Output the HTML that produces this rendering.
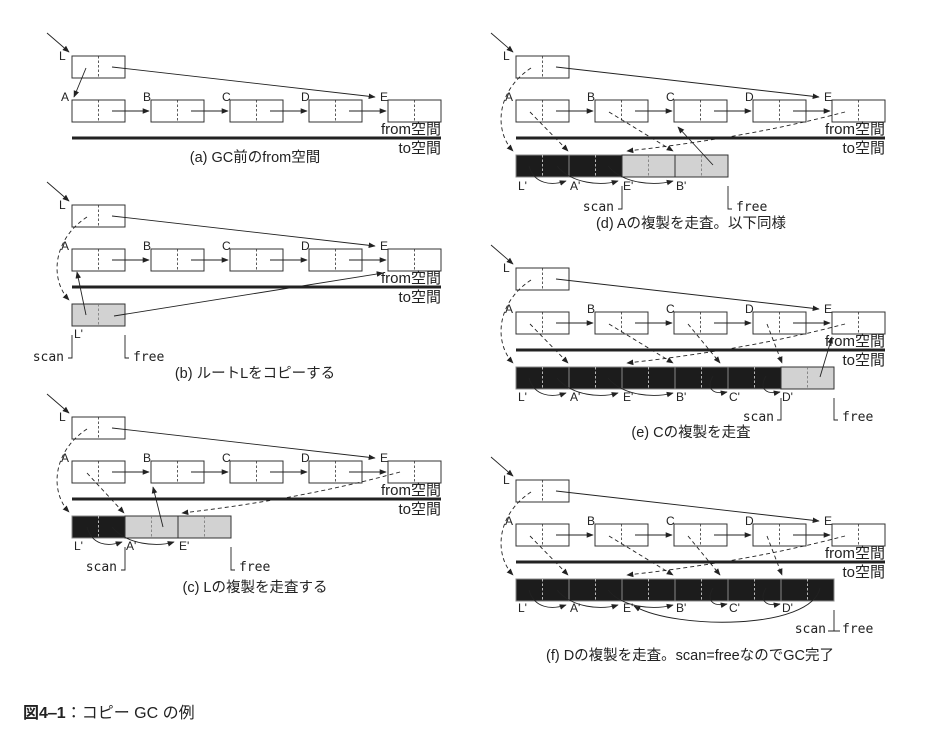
<!DOCTYPE html>
<html><head><meta charset="utf-8"><style>
html,body{margin:0;padding:0;background:#fff;}
svg{display:block;}
text{font-family:"Liberation Sans","Noto Sans CJK JP",sans-serif;fill:#222;}
.lb{font-size:12px;}
.cap{font-size:14.5px;text-anchor:middle;}
.sp{font-size:15px;text-anchor:end;}
.mono{font-family:"DejaVu Sans Mono","Liberation Mono",monospace;font-size:13px;}
</style></head><body>
<svg width="928" height="744" viewBox="0 0 928 744" xmlns="http://www.w3.org/2000/svg">
<defs>
<marker id="ah" viewBox="0 0 10 10" refX="9" refY="5" markerWidth="7" markerHeight="7" markerUnits="userSpaceOnUse" orient="auto"><path d="M0,1 L10,5 L0,9z" fill="#222"/></marker>
<g id="box"><rect x="0" y="0" width="53" height="22" fill="#fff" stroke="#333" stroke-width="1"/><line x1="26.5" y1="0" x2="26.5" y2="22" stroke="#333" stroke-width="0.8" stroke-dasharray="2.5,2"/></g>
<g id="bk"><rect x="0" y="0" width="53" height="22" fill="#1c1c1c" stroke="#888" stroke-width="1"/><line x1="26.5" y1="0" x2="26.5" y2="22" stroke="#ddd" stroke-width="0.8" stroke-dasharray="2.5,2"/></g>
<g id="gy"><rect x="0" y="0" width="53" height="22" fill="#d2d2d2" stroke="#333" stroke-width="1"/><line x1="26.5" y1="0" x2="26.5" y2="22" stroke="#777" stroke-width="0.8" stroke-dasharray="2.5,2"/></g>
<g id="frame" fill="none" stroke="#222" stroke-width="0.9">
<path d="M-25,-23 L-3,-4" marker-end="url(#ah)"/>
<use href="#box" x="0" y="0"/>
<use href="#box" x="0" y="44"/><use href="#box" x="79" y="44"/><use href="#box" x="158" y="44"/><use href="#box" x="237" y="44"/><use href="#box" x="316" y="44"/>
<path d="M40,55 H77" marker-end="url(#ah)"/><path d="M119,55 H156" marker-end="url(#ah)"/><path d="M198,55 H235" marker-end="url(#ah)"/><path d="M277,55 H314" marker-end="url(#ah)"/>
<path d="M40,11 L303,41" marker-end="url(#ah)"/>
<line x1="0" y1="82" x2="369" y2="82" stroke-width="3"/>
</g>
<path id="ldash" d="M15,12 C-20,35 -22,75 -3,95" fill="none" stroke="#222" stroke-width="0.9" stroke-dasharray="4,3" marker-end="url(#ah)"/>
</defs>

<!-- (a) -->
<g transform="translate(72,56)">
<use href="#frame"/>
<path d="M14,12 L2,41" stroke="#222" stroke-width="0.9" fill="none" marker-end="url(#ah)"/>
<text class="lb" x="-13" y="4">L</text><text class="lb" x="-11" y="45">A</text><text class="lb" x="71" y="45">B</text><text class="lb" x="150" y="45">C</text><text class="lb" x="229" y="45">D</text><text class="lb" x="308" y="45">E</text>
<text class="sp" x="369" y="78">from空間</text><text class="sp" x="369" y="97">to空間</text>
<text class="cap" x="183" y="106">(a) GC前のfrom空間</text>
</g>

<!-- (b) -->
<g transform="translate(72,205)">
<use href="#frame"/>
<use href="#ldash"/>
<use href="#gy" x="0" y="99"/>
<g fill="none" stroke="#222" stroke-width="0.9">
<path d="M14,110 L5,67" marker-end="url(#ah)"/>
<path d="M42,111 L311,68" marker-end="url(#ah)"/>
<path d="M0,130 V153 H-4"/><path d="M53,130 V153 H57"/>
</g>
<text class="lb" x="-13" y="4">L</text><text class="lb" x="-11" y="45">A</text><text class="lb" x="71" y="45">B</text><text class="lb" x="150" y="45">C</text><text class="lb" x="229" y="45">D</text><text class="lb" x="308" y="45">E</text>
<text class="lb" x="2" y="133">L'</text>
<text class="sp" x="369" y="78">from空間</text><text class="sp" x="369" y="97">to空間</text>
<text class="mono" x="-8" y="156" text-anchor="end">scan</text><text class="mono" x="61" y="156">free</text>
<text class="cap" x="183" y="173">(b) ルートLをコピーする</text>
</g>

<!-- (c) -->
<g transform="translate(72,417)">
<use href="#frame"/>
<use href="#ldash"/>
<use href="#bk" x="0" y="99"/><use href="#gy" x="53" y="99"/><use href="#gy" x="106" y="99"/>
<g fill="none" stroke="#222" stroke-width="0.9">
<path d="M15,56 L52,96" stroke-dasharray="4,3" marker-end="url(#ah)"/>
<path d="M328,55 Q230,82 110,96" stroke-dasharray="4,3" marker-end="url(#ah)"/>
<path d="M91,110 L81,70" marker-end="url(#ah)"/>
<path d="M53,130 V153 H49"/><path d="M159,130 V153 H163"/>
<path d="M15,110 C20,128 35,130 50,125" marker-end="url(#ah)"/>
<path d="M40,110 C55,128 85,130 102,125" marker-end="url(#ah)"/>
</g>
<text class="lb" x="-13" y="4">L</text><text class="lb" x="-11" y="45">A</text><text class="lb" x="71" y="45">B</text><text class="lb" x="150" y="45">C</text><text class="lb" x="229" y="45">D</text><text class="lb" x="308" y="45">E</text>
<text class="lb" x="2" y="133">L'</text><text class="lb" x="54" y="133">A'</text><text class="lb" x="107" y="133">E'</text>
<text class="sp" x="369" y="78">from空間</text><text class="sp" x="369" y="97">to空間</text>
<text class="mono" x="45" y="154" text-anchor="end">scan</text><text class="mono" x="167" y="154">free</text>
<text class="cap" x="183" y="175">(c) Lの複製を走査する</text>
</g>

<!-- (d) -->
<g transform="translate(516,56)">
<use href="#frame"/>
<use href="#ldash"/>
<use href="#bk" x="0" y="99"/><use href="#bk" x="53" y="99"/><use href="#gy" x="106" y="99"/><use href="#gy" x="159" y="99"/>
<g fill="none" stroke="#222" stroke-width="0.9">
<path d="M14,56 L52,95" stroke-dasharray="4,3" marker-end="url(#ah)"/>
<path d="M93,56 L157,95" stroke-dasharray="4,3" marker-end="url(#ah)"/>
<path d="M329,56 Q230,82 111,95" stroke-dasharray="4,3" marker-end="url(#ah)"/>
<path d="M197,109 L162,71" marker-end="url(#ah)"/>
<path d="M13,110 C18,128 35,130 50,125" marker-end="url(#ah)"/>
<path d="M41,110 C56,128 85,130 102,125" marker-end="url(#ah)"/>
<path d="M92,110 C107,128 138,130 157,125" marker-end="url(#ah)"/>
<path d="M106,130 V153 H102"/><path d="M212,130 V153 H216"/>
</g>
<text class="lb" x="-13" y="4">L</text><text class="lb" x="-11" y="45">A</text><text class="lb" x="71" y="45">B</text><text class="lb" x="150" y="45">C</text><text class="lb" x="229" y="45">D</text><text class="lb" x="308" y="45">E</text>
<text class="lb" x="2" y="134">L'</text><text class="lb" x="54" y="134">A'</text><text class="lb" x="107" y="134">E'</text><text class="lb" x="160" y="134">B'</text>
<text class="sp" x="369" y="78">from空間</text><text class="sp" x="369" y="97">to空間</text>
<text class="mono" x="98" y="155" text-anchor="end">scan</text><text class="mono" x="220" y="155">free</text>
<text class="cap" x="175" y="172">(d) Aの複製を走査。以下同様</text>
</g>

<!-- (e) -->
<g transform="translate(516,268)">
<use href="#frame"/>
<use href="#ldash"/>
<use href="#bk" x="0" y="99"/><use href="#bk" x="53" y="99"/><use href="#bk" x="106" y="99"/><use href="#bk" x="159" y="99"/><use href="#bk" x="212" y="99"/><use href="#gy" x="265" y="99"/>
<g fill="none" stroke="#222" stroke-width="0.9">
<path d="M14,56 L52,95" stroke-dasharray="4,3" marker-end="url(#ah)"/>
<path d="M93,56 L157,95" stroke-dasharray="4,3" marker-end="url(#ah)"/>
<path d="M172,56 L204,95" stroke-dasharray="4,3" marker-end="url(#ah)"/>
<path d="M251,56 L266,95" stroke-dasharray="4,3" marker-end="url(#ah)"/>
<path d="M329,56 Q230,82 111,95" stroke-dasharray="4,3" marker-end="url(#ah)"/>
<path d="M304,109 L316,69" marker-end="url(#ah)"/>
<path d="M13,110 C18,128 35,130 50,125" marker-end="url(#ah)"/>
<path d="M41,110 C56,128 85,130 102,125" marker-end="url(#ah)"/>
<path d="M92,110 C107,128 138,130 157,125" marker-end="url(#ah)"/>
<path d="M197,108 C190,120 196,127 211,124" marker-end="url(#ah)"/>
<path d="M250,108 C243,120 249,127 264,124" marker-end="url(#ah)"/>
<path d="M265,130 V152 H261"/><path d="M318,130 V152 H322"/>
</g>
<text class="lb" x="-13" y="4">L</text><text class="lb" x="-11" y="45">A</text><text class="lb" x="71" y="45">B</text><text class="lb" x="150" y="45">C</text><text class="lb" x="229" y="45">D</text><text class="lb" x="308" y="45">E</text>
<text class="lb" x="2" y="133">L'</text><text class="lb" x="54" y="133">A'</text><text class="lb" x="107" y="133">E'</text><text class="lb" x="160" y="133">B'</text><text class="lb" x="213" y="133">C'</text><text class="lb" x="266" y="133">D'</text>
<text class="sp" x="369" y="78">from空間</text><text class="sp" x="369" y="97">to空間</text>
<text class="mono" x="258" y="153" text-anchor="end">scan</text><text class="mono" x="326" y="153">free</text>
<text class="cap" x="175" y="169">(e) Cの複製を走査</text>
</g>

<!-- (f) -->
<g transform="translate(516,480)">
<use href="#frame"/>
<use href="#ldash"/>
<use href="#bk" x="0" y="99"/><use href="#bk" x="53" y="99"/><use href="#bk" x="106" y="99"/><use href="#bk" x="159" y="99"/><use href="#bk" x="212" y="99"/><use href="#bk" x="265" y="99"/>
<g fill="none" stroke="#222" stroke-width="0.9">
<path d="M14,56 L52,95" stroke-dasharray="4,3" marker-end="url(#ah)"/>
<path d="M93,56 L157,95" stroke-dasharray="4,3" marker-end="url(#ah)"/>
<path d="M172,56 L204,95" stroke-dasharray="4,3" marker-end="url(#ah)"/>
<path d="M251,56 L266,95" stroke-dasharray="4,3" marker-end="url(#ah)"/>
<path d="M329,56 Q230,82 111,95" stroke-dasharray="4,3" marker-end="url(#ah)"/>
<path d="M13,110 C18,128 35,130 50,125" marker-end="url(#ah)"/>
<path d="M41,110 C56,128 85,130 102,125" marker-end="url(#ah)"/>
<path d="M92,110 C107,128 138,130 157,125" marker-end="url(#ah)"/>
<path d="M197,108 C190,120 196,127 211,124" marker-end="url(#ah)"/>
<path d="M250,108 C243,120 249,127 264,124" marker-end="url(#ah)"/>
<path d="M304,108 C295,150 160,150 118,126" marker-end="url(#ah)"/>
<path d="M318,130 V151 M312,151 H324"/>
</g>
<text class="lb" x="-13" y="4">L</text><text class="lb" x="-11" y="45">A</text><text class="lb" x="71" y="45">B</text><text class="lb" x="150" y="45">C</text><text class="lb" x="229" y="45">D</text><text class="lb" x="308" y="45">E</text>
<text class="lb" x="2" y="132">L'</text><text class="lb" x="54" y="132">A'</text><text class="lb" x="107" y="132">E'</text><text class="lb" x="160" y="132">B'</text><text class="lb" x="213" y="132">C'</text><text class="lb" x="266" y="132">D'</text>
<text class="sp" x="369" y="78">from空間</text><text class="sp" x="369" y="97">to空間</text>
<text class="mono" x="310" y="153" text-anchor="end">scan</text><text class="mono" x="326" y="153">free</text>
<text class="cap" x="174" y="180">(f) Dの複製を走査。scan=freeなのでGC完了</text>
</g>

<text x="23" y="718" style="font-size:16px;"><tspan font-weight="bold">図4‒1</tspan>：コピー GC の例</text>
</svg>
</body></html>
